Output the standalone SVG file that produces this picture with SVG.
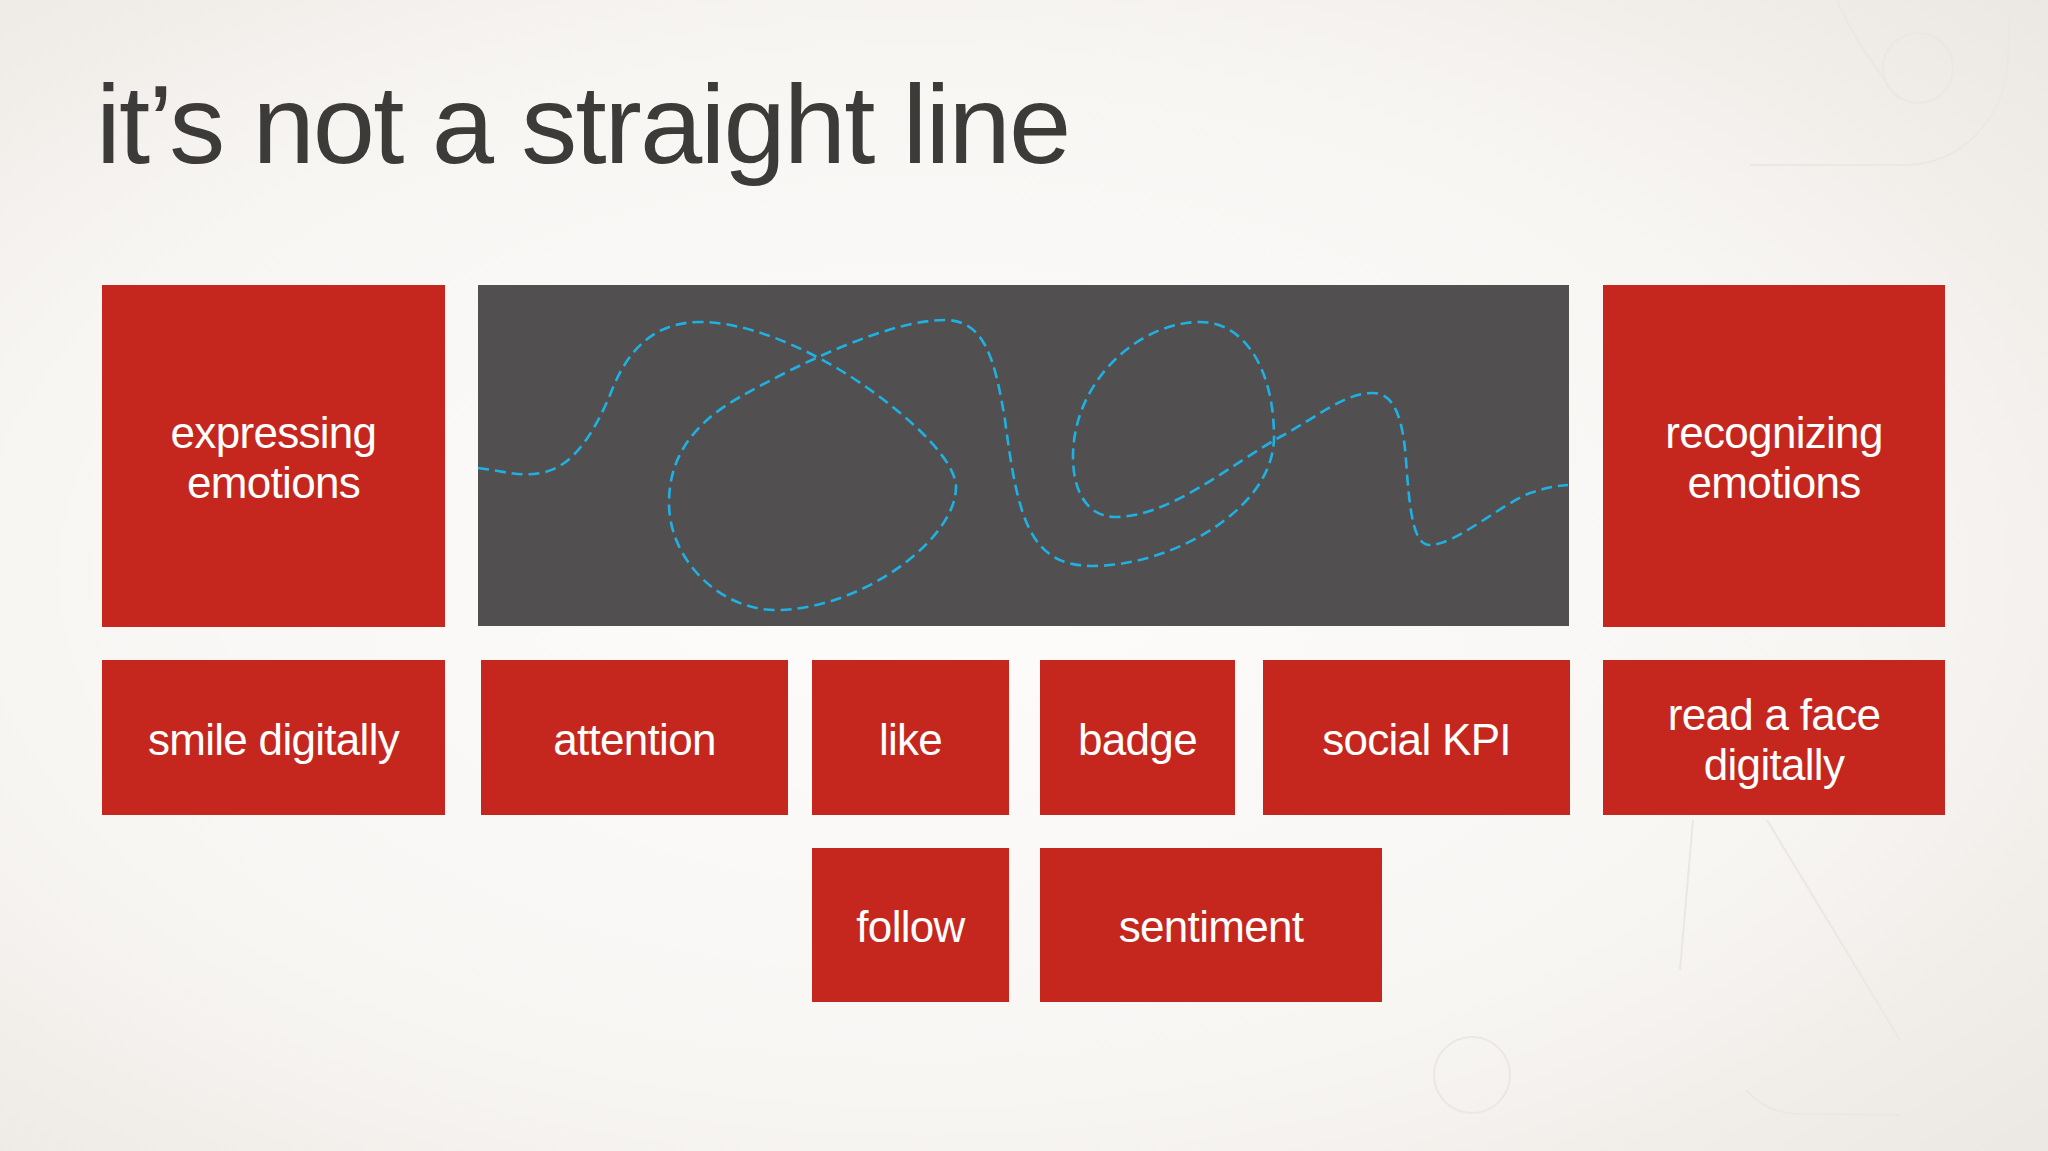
<svg xmlns="http://www.w3.org/2000/svg" width="2048" height="1151" viewBox="0 0 2048 1151">
  <defs>
    <radialGradient id="bg" cx="0.45" cy="0.5" r="0.75">
      <stop offset="0" stop-color="#fdfcfb"/>
      <stop offset="0.6" stop-color="#f8f6f3"/>
      <stop offset="1" stop-color="#ebe7e2"/>
    </radialGradient>
    <style>
      .title { font-family: "Liberation Sans", Arial, Helvetica, sans-serif; font-size: 112px; fill: #3d3b39; letter-spacing: -1.9px; }
      .red { fill: #c5271f; }
      .dark { fill: #514f4f; }
      .lbl { font-family: "Liberation Sans", Arial, Helvetica, sans-serif; font-size: 44px; fill: #ffffff; text-anchor: middle; letter-spacing: -0.7px; }
      .sketch { fill: none; stroke: #ebe7e2; stroke-width: 2; }
      .path { fill: none; stroke: #1fb1e3; stroke-width: 2.6; stroke-dasharray: 11 6; }
    </style>
  </defs>

  <rect x="0" y="0" width="2048" height="1151" fill="url(#bg)"/>

  <g id="background-sketch">
    <path class="sketch" d="M1750,165 L1905,165 C1960,165 2005,120 2008,60 L2010,0"/>
    <path class="sketch" d="M1837,0 C1850,30 1870,60 1885,80"/>
    <circle class="sketch" cx="1918" cy="68" r="35"/>
    <circle class="sketch" cx="1472" cy="1075" r="38"/>
    <path class="sketch" d="M1767,820 L1900,1040"/>
    <path class="sketch" d="M1693,820 L1680,970"/>
    <path class="sketch" d="M1746,1090 C1760,1105 1775,1113 1800,1114 L1900,1115"/>
  </g>

  <text class="title" x="96" y="163">it’s not a straight line</text>

  <g id="node-expressing-emotions">
    <rect class="red" x="102" y="285" width="343" height="342"/>
    <text class="lbl" x="273.5" y="448">expressing</text>
    <text class="lbl" x="273.5" y="498">emotions</text>
  </g>

  <g id="node-path-panel">
    <rect class="dark" x="478" y="285" width="1091" height="341"/>
  </g>

  <g id="node-recognizing-emotions">
    <rect class="red" x="1603" y="285" width="342" height="342"/>
    <text class="lbl" x="1774" y="448">recognizing</text>
    <text class="lbl" x="1774" y="498">emotions</text>
  </g>

  <g id="node-smile-digitally">
    <rect class="red" x="102" y="660" width="343" height="155"/>
    <text class="lbl" x="273.5" y="755">smile digitally</text>
  </g>

  <g id="node-attention">
    <rect class="red" x="481" y="660" width="307" height="155"/>
    <text class="lbl" x="634.5" y="755">attention</text>
  </g>

  <g id="node-like">
    <rect class="red" x="812" y="660" width="197" height="155"/>
    <text class="lbl" x="910.5" y="755">like</text>
  </g>

  <g id="node-badge">
    <rect class="red" x="1040" y="660" width="195" height="155"/>
    <text class="lbl" x="1137.5" y="755">badge</text>
  </g>

  <g id="node-social-kpi">
    <rect class="red" x="1263" y="660" width="307" height="155"/>
    <text class="lbl" x="1416.5" y="755">social KPI</text>
  </g>

  <g id="node-read-a-face">
    <rect class="red" x="1603" y="660" width="342" height="155"/>
    <text class="lbl" x="1774" y="730">read a face</text>
    <text class="lbl" x="1774" y="780">digitally</text>
  </g>

  <g id="node-follow">
    <rect class="red" x="812" y="848" width="197" height="154"/>
    <text class="lbl" x="910.5" y="942">follow</text>
  </g>

  <g id="node-sentiment">
    <rect class="red" x="1040" y="848" width="342" height="154"/>
    <text class="lbl" x="1211" y="942">sentiment</text>
  </g>

  <g id="connectors">
    <path class="path" d="M478,468 C505,471 520,478 545,472 C575,465 595,430 610,395 C625,355 650,322 700,322 C740,322 790,340 840,370 C890,400 956,455 956,487 C956,540 860,610 776,610 C720,610 669,560 669,503 C669,460 690,425 740,397 C800,363 890,320 945,320 C985,320 995,360 1005,420 C1018,520 1030,566 1093,566 C1170,566 1274,510 1274,437 C1274,370 1245,322 1200,322 C1140,322 1073,380 1073,457 C1073,495 1090,517 1115,517 C1170,517 1230,465 1280,437 C1320,415 1345,393 1373,393 C1395,393 1403,420 1406,460 C1410,520 1415,545 1430,545 C1455,545 1500,505 1530,493 C1545,488 1555,486 1568,485"/>
  </g>
</svg>
